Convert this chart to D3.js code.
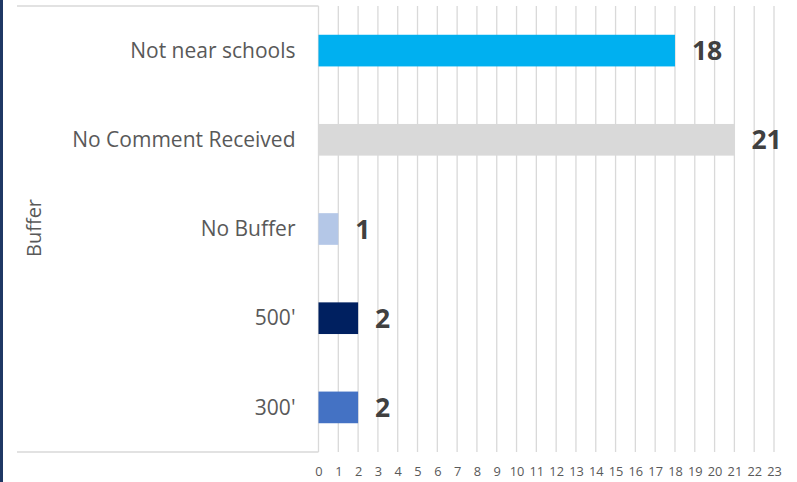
<!DOCTYPE html>
<html>
<head>
<meta charset="utf-8">
<script src="https://cdn.jsdelivr.net/npm/d3@7"></script>
<style>
  body { margin: 0; background: #fff; }
  svg { display: block; font-family: "Open Sans", sans-serif; }
</style>
</head>
<body>
<div class="bar-chart"></div>
<script>
// data
var categories = ["Not near schools", "No Comment Received", "No Buffer", "500'", "300'"];
var counts = [18, 21, 1, 2, 2];
var barColors = ["#00B0F0", "#D9D9D9", "#B4C7E7", "#002060", "#4472C4"];
var xTicks = d3.range(0, 24);

var svgWidth = 797;
var svgHeight = 482;

var margin = { top: 6, right: 23, bottom: 30, left: 318.5 };
var chartWidth = svgWidth - margin.left - margin.right;
var chartHeight = svgHeight - margin.top - margin.bottom;

var svg = d3.select(".bar-chart")
  .append("svg")
  .attr("width", svgWidth)
  .attr("height", svgHeight);

// dark strip on the left edge
svg.append("rect")
  .attr("x", 0).attr("y", 0)
  .attr("width", 3).attr("height", svgHeight)
  .attr("fill", "#1F3864");

var chartGroup = svg.append("g")
  .attr("transform", `translate(${margin.left}, ${margin.top})`);

// scales
var xScale = d3.scaleLinear()
  .domain([0, 23])
  .range([0, 455.5]);

var yScale = d3.scaleBand()
  .domain(categories)
  .range([0, chartHeight])
  .paddingInner(0.645)
  .paddingOuter(0.3225);

// gridlines
chartGroup.selectAll(".grid")
  .data(xTicks)
  .enter()
  .append("line")
  .attr("x1", d => xScale(d))
  .attr("x2", d => xScale(d))
  .attr("y1", 0)
  .attr("y2", chartHeight)
  .attr("stroke", "#D9D9D9")
  .attr("stroke-width", 1.3);

// category box lines (top and bottom)
[0, chartHeight].forEach(function(y) {
  chartGroup.append("line")
    .attr("x1", 17 - margin.left)
    .attr("x2", 0)
    .attr("y1", y)
    .attr("y2", y)
    .attr("stroke", "#D9D9D9")
    .attr("stroke-width", 1.3);
});

// x axis
var bottomAxis = d3.axisBottom(xScale)
  .tickValues(xTicks)
  .tickSize(0)
  .tickPadding(15);

var xAxis = chartGroup.append("g")
  .attr("transform", `translate(0, ${chartHeight})`)
  .call(bottomAxis);
xAxis.select(".domain").remove();
xAxis.selectAll("text")
  .attr("font-family", "Open Sans, sans-serif")
  .attr("font-size", "12.8px")
  .attr("fill", "#595959");

// y axis labels
var leftAxis = d3.axisLeft(yScale)
  .tickSize(0)
  .tickPadding(23);

var yAxis = chartGroup.append("g").call(leftAxis);
yAxis.select(".domain").remove();
yAxis.selectAll("text")
  .attr("font-family", "Open Sans, sans-serif")
  .attr("font-size", "21px")
  .attr("dy", "0.34em")
  .attr("fill", "#595959");

// bars
chartGroup.selectAll(".bar")
  .data(categories)
  .enter()
  .append("rect")
  .attr("x", 0)
  .attr("y", d => yScale(d))
  .attr("width", (d, i) => xScale(counts[i]))
  .attr("height", yScale.bandwidth())
  .attr("fill", (d, i) => barColors[i]);

// value labels
chartGroup.selectAll(".value")
  .data(categories)
  .enter()
  .append("text")
  .attr("x", (d, i) => xScale(counts[i]) + 17)
  .attr("y", d => yScale(d) + yScale.bandwidth() / 2)
  .attr("dy", "0.36em")
  .attr("font-size", "26.5px")
  .attr("font-weight", "bold")
  .attr("fill", "#404040")
  .text((d, i) => counts[i]);

// y axis title
svg.append("text")
  .attr("transform", "translate(41, 228) rotate(-90)")
  .attr("text-anchor", "middle")
  .attr("font-size", "20px")
  .attr("fill", "#595959")
  .text("Buffer");
</script>
</body>
</html>
